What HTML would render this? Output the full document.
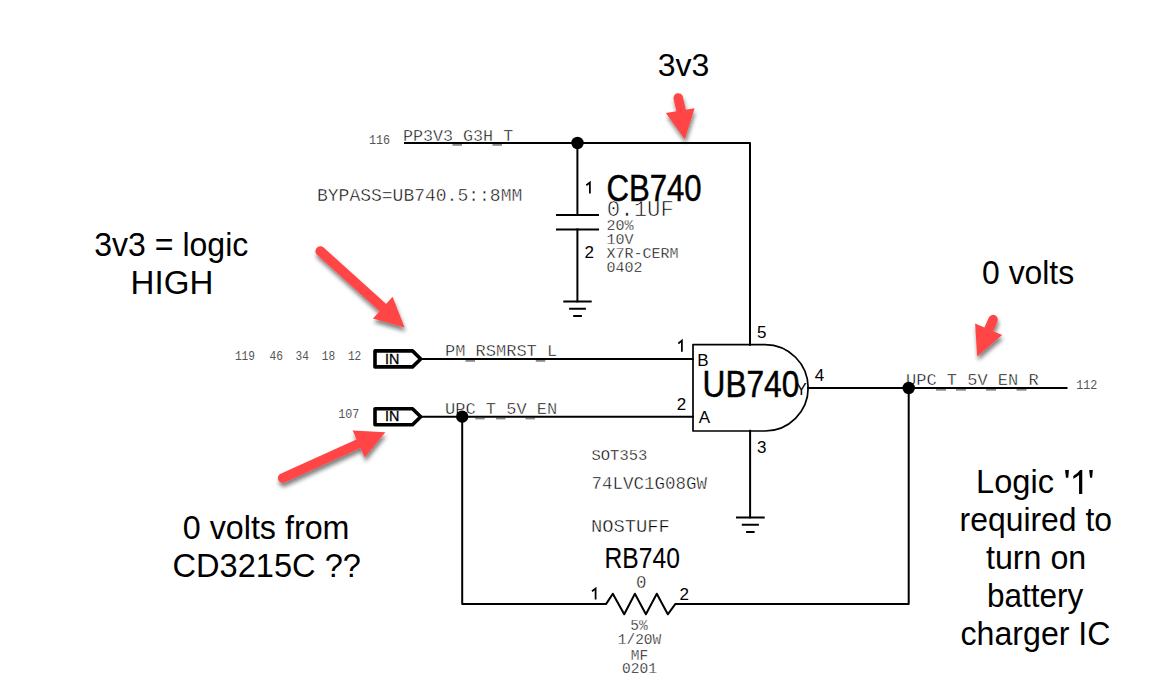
<!DOCTYPE html>
<html><head><meta charset="utf-8"><style>
html,body{margin:0;padding:0;background:#fff;width:1152px;height:697px;overflow:hidden}
svg{position:absolute;left:0;top:0}
.m{font-family:"Liberation Mono",monospace;fill:#000;stroke:#fff;stroke-width:0.45px}
.ms{stroke-width:0.35px}
.mt{stroke-width:0.7px}
.mx{stroke:none;fill:#555}
.s{font-family:"Liberation Sans",sans-serif;fill:#000}
.g{fill:#888}
</style></head><body>
<svg width="1152" height="697" viewBox="0 0 1152 697">
<defs>
<filter id="sh" x="-30%" y="-30%" width="160%" height="160%">
<feGaussianBlur in="SourceAlpha" stdDeviation="2.2"/>
<feOffset dx="0.6" dy="3.6" result="b"/>
<feComponentTransfer><feFuncA type="linear" slope="0.5"/></feComponentTransfer>
<feMerge><feMergeNode/><feMergeNode in="SourceGraphic"/></feMerge>
</filter>
</defs>
<!-- mono labels -->
<text class="m mx" transform="translate(369 143.8) scale(0.9 1)" font-size="13">116</text>
<text class="m" x="403" y="140.5" font-size="16.7" xml:space="preserve">PP3V3 G3H T</text>
<text class="m" x="317" y="200.6" font-size="18">BYPASS=UB740.5::8MM</text>
<text class="m mx" transform="translate(234.9 359.8) scale(0.86 1)" font-size="13">119</text><text class="m mx" transform="translate(269.6 359.8) scale(0.86 1)" font-size="13">46</text><text class="m mx" transform="translate(295.5 359.8) scale(0.86 1)" font-size="13">34</text><text class="m mx" transform="translate(321.7 359.8) scale(0.86 1)" font-size="13">18</text><text class="m mx" transform="translate(347.9 359.8) scale(0.86 1)" font-size="13">12</text>
<text class="m mx" transform="translate(338.2 417.5) scale(0.9 1)" font-size="13">107</text>
<text class="m" x="445" y="356" font-size="17" xml:space="preserve">PM RSMRST L</text>
<text class="m" x="445" y="413.8" font-size="17" xml:space="preserve">UPC T 5V EN</text>
<text class="m" x="906" y="384.6" font-size="17" xml:space="preserve">UPC T 5V EN R</text>
<text class="m mx" transform="translate(1076.2 389.1) scale(0.9 1)" font-size="13">112</text>
<text class="m mt" transform="translate(606.8 215.6) scale(0.995 1)" font-size="22.5">0.1UF</text>
<text class="m ms" x="606.5" y="229.8" font-size="15">20%</text>
<text class="m ms" x="606.5" y="243.8" font-size="15">10V</text>
<text class="m ms" x="606.5" y="258" font-size="15">X7R-CERM</text>
<text class="m ms" x="606.5" y="272" font-size="15">0402</text>
<text class="m ms" x="591.5" y="460.3" font-size="15.5">SOT353</text>
<text class="m" x="591.5" y="489" font-size="17.5">74LVC1G08GW</text>
<text class="m" x="591" y="532" font-size="18.8">NOSTUFF</text>
<text class="m" x="636" y="588.2" font-size="17.5">0</text>
<text class="m ms" x="631" y="629.8" font-size="14.5" text-anchor="middle" transform="translate(8 0)">5%</text>
<text class="m ms" x="639.5" y="644.4" font-size="14.5" text-anchor="middle">1/20W</text>
<text class="m ms" x="639.5" y="659.5" font-size="14.5" text-anchor="middle">MF</text>
<text class="m ms" x="639.5" y="673" font-size="14.5" text-anchor="middle">0201</text>
<!-- sans labels -->
<text class="s" stroke="#000" stroke-width="0.5" transform="translate(606.5 200.6) scale(0.83 1)" font-size="37.5">CB740</text>

<text class="s" x="584.6" y="258.3" font-size="17">2</text>
<text class="s" stroke="#000" stroke-width="0.5" transform="translate(702.5 396.8) scale(0.845 1)" font-size="37.5">UB740</text>
<text class="s" x="697.2" y="366.2" font-size="17">B</text>
<text class="s" x="698.8" y="422.8" font-size="17">A</text>
<text class="s" x="796" y="395" font-size="16">Y</text>

<text class="s" x="676.8" y="409.8" font-size="17">2</text>
<text class="s" x="757" y="337.8" font-size="17">5</text>
<text class="s" x="814.8" y="381.2" font-size="17">4</text>
<text class="s" x="757" y="453" font-size="17">3</text>
<text class="s" x="385" y="363.8" font-size="14.3" stroke="#000" stroke-width="0.3">IN</text>
<text class="s" x="385" y="421.2" font-size="14.3" stroke="#000" stroke-width="0.3">IN</text>
<text class="s" stroke="#000" stroke-width="0.1" transform="translate(604.6 568) scale(0.855 1)" font-size="28.8">RB740</text>

<text class="s" x="679.6" y="600" font-size="17">2</text>
<g stroke="#000" stroke-width="1.75" fill="none" stroke-linejoin="miter" stroke-miterlimit="10">
<path d="M589.9 193.5V182.5L586.3 185.3"/>
<path d="M681.9 351.8V340.6L678.3 343.5"/>
<path d="M595.6 599.6V588.5L592 591.3"/>
</g>
<!-- annotations -->
<text class="s" x="683.5" y="75.5" font-size="32" text-anchor="middle">3v3</text>
<text class="s" transform="translate(171.3 255.5) scale(0.983 1)" font-size="32.6" text-anchor="middle">3v3 = logic</text>
<text class="s" transform="translate(172.0 293.8) scale(1.016 1)" font-size="32.6" text-anchor="middle">HIGH</text>
<text class="s" transform="translate(266.1 538.8) scale(0.99 1)" font-size="32.6" text-anchor="middle">0 volts from</text>
<text class="s" transform="translate(266.7 577) scale(1.0 1)" font-size="32.6" text-anchor="middle">CD3215C ??</text>
<text class="s" transform="translate(1028.1 283.8) scale(0.978 1)" font-size="32.6" text-anchor="middle">0 volts</text>
<text class="s" x="976.1" y="493.4" font-size="32.6">Logic</text>
<path d="M1065.05 470.05H1068.95L1068.26 477.86H1065.97Z M1089.15 470.05H1092.83L1092.14 477.86H1090.07Z M1079.05 493.93H1082.27V470.05H1080.2Q1077.5 473.6 1073.3 475.9V478.8Q1076.8 477.2 1079.05 475.1Z"/>
<text class="s" transform="translate(1035.8 531.2) scale(0.978 1)" font-size="32.6" text-anchor="middle">required to</text>
<text class="s" transform="translate(1036.1 569) scale(0.988 1)" font-size="32.6" text-anchor="middle">turn on</text>
<text class="s" transform="translate(1035.1 606.8) scale(0.967 1)" font-size="32.6" text-anchor="middle">battery</text>
<text class="s" transform="translate(1035.5 644.6) scale(0.986 1)" font-size="32.6" text-anchor="middle">charger IC</text>
<!-- underscores -->
<g fill="#8a8a8a">
<rect x="452.5" y="144" width="9.5" height="1.8"/><rect x="492.5" y="144" width="9.5" height="1.8"/>
<rect x="465.5" y="360" width="9.5" height="1.8"/><rect x="535.8" y="360" width="9.5" height="1.8"/>
<rect x="475.2" y="417.6" width="9.5" height="1.8"/><rect x="496" y="417.6" width="9.5" height="1.8"/><rect x="525.5" y="417.6" width="9.5" height="1.8"/>
<rect x="936" y="388.9" width="10" height="1.8"/><rect x="956" y="388.9" width="10" height="1.8"/><rect x="986" y="388.9" width="10" height="1.8"/><rect x="1016.5" y="388.9" width="10" height="1.8"/>
</g>
<g stroke="#000" stroke-width="2" fill="none" stroke-linecap="square" stroke-linejoin="round">
<!-- top rail -->
<path d="M405 143H750V344.7"/>
<path d="M577.4 143V215"/>
<path d="M557 215H598M557 229.4H598"/>
<path d="M577.4 229.4V301.4"/>
<path d="M564.3 301.4H590.7M570.1 308.7H584.9M574.2 315.9H580.9"/>
<!-- gate -->
<path d="M693 344.6H765A43.2 43.2 0 0 1 765 431H693Z" stroke-width="1.7"/>
<path d="M422 359H693M422 416.7H693"/>
<path d="M808 388H1066.5"/>
<path d="M750.1 430.8V517.4"/>
<path d="M737 517.4H763.7M742.8 524.7H757.9M747.1 531.9H753.6"/>
<!-- feedback loop -->
<path d="M462.2 416.7V603.9H606.2L612.8 593.7L624.2 614.3L634.9 593.7L645.9 614.3L656.8 593.7L667.8 614.3L675.4 603.9H908.7V388"/>
</g>
<!-- IN tags -->
<g stroke="#000" stroke-width="3.6" fill="none" stroke-linejoin="round">
<path d="M375 350.9H412.5L420.7 359L412.5 366.9H375Z"/>
<path d="M375 408.8H412.5L420.7 416.8L412.5 424.8H375Z"/>
</g>
<g fill="#000">
<circle cx="577.5" cy="143" r="6.2"/>
<circle cx="462.2" cy="416.7" r="6.2"/>
<circle cx="908.7" cy="388" r="6.2"/>
</g>
<!-- arrows -->
<g fill="#ff4545" filter="url(#sh)">
<path d="M678.2 97.9L683.3 120" stroke="#ff4545" stroke-width="9.5" stroke-linecap="round" fill="none"/>
<path d="M665.8 113.1L694.6 108.3L684.8 139.6Z"/>
<path d="M320.3 251.2L384.3 308.9" stroke="#ff4545" stroke-width="9.8" stroke-linecap="round" fill="none"/>
<path d="M392.6 296.7L373 318.6L404.6 327.6Z"/>
<path d="M282.6 478.1L360 443" stroke="#ff4545" stroke-width="9.5" stroke-linecap="round" fill="none"/>
<path d="M352.6 430.5L364.7 457.5L385.3 432.2Z"/>
<path d="M993.1 319.6L985 338" stroke="#ff4545" stroke-width="9.5" stroke-linecap="round" fill="none"/>
<path d="M975.1 323.5L1002.2 335.1L977.2 356.6Z"/>
</g>
</svg>
</body></html>
